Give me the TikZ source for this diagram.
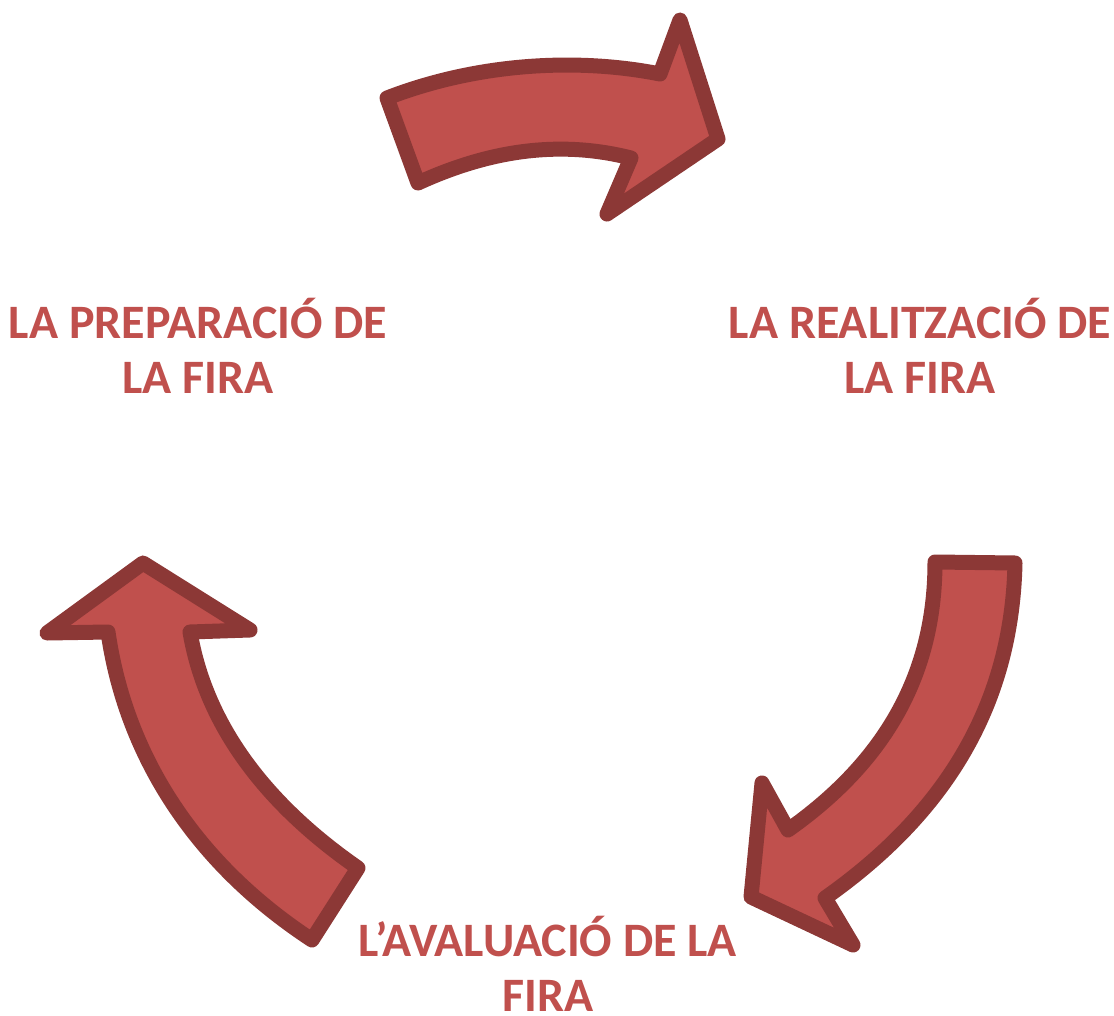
\documentclass[tikz,border=0pt]{standalone}
\usepackage{fontspec}
\setmainfont{Carlito}
\definecolor{arrowfill}{HTML}{C0504D}
\definecolor{arrowline}{HTML}{8C3836}
\definecolor{labeltext}{HTML}{C0504D}
\begin{document}
\begin{tikzpicture}[x=1pt,y=-1pt,
  bigarrow/.style={fill=arrowfill,draw=arrowline,line width=15pt,line join=round},
  steplabel/.style={text=labeltext,font=\fontsize{48}{55}\selectfont\bfseries,align=center,inner sep=0pt,anchor=base}]
\useasboundingbox (0,0) rectangle (1114,1016);
% top arrow
\draw[bigarrow] (387,98) .. controls (480,62) and (580,58) .. (660,74)
  -- (680,20) -- (718,139) -- (607,214) -- (631,158)
  .. controls (560,140) and (490,150) .. (418,183) -- cycle;
% right arrow
\draw[bigarrow] (935,562) -- (1015,563)
  .. controls (1012,700) and (950,810) .. (825,898)
  -- (853,945) -- (751,897) -- (762,783) -- (788,830)
  .. controls (880,765) and (935,680) .. (935,562) -- cycle;
% left arrow
\draw[bigarrow] (143,563) -- (250,630) -- (190,632)
  .. controls (205,720) and (260,800) .. (358,868)
  -- (312,940)
  .. controls (190,860) and (125,750) .. (108,632)
  -- (47,633) -- cycle;
\node[steplabel] (prep) at (198,393) {LA PREPARACIÓ DE\\LA FIRA};
\node[steplabel] (real) at (920,393) {LA REALITZACIÓ DE\\LA FIRA};
\node[steplabel] (aval) at (548,1011) {L’AVALUACIÓ DE LA\\FIRA};
\end{tikzpicture}
\end{document}
